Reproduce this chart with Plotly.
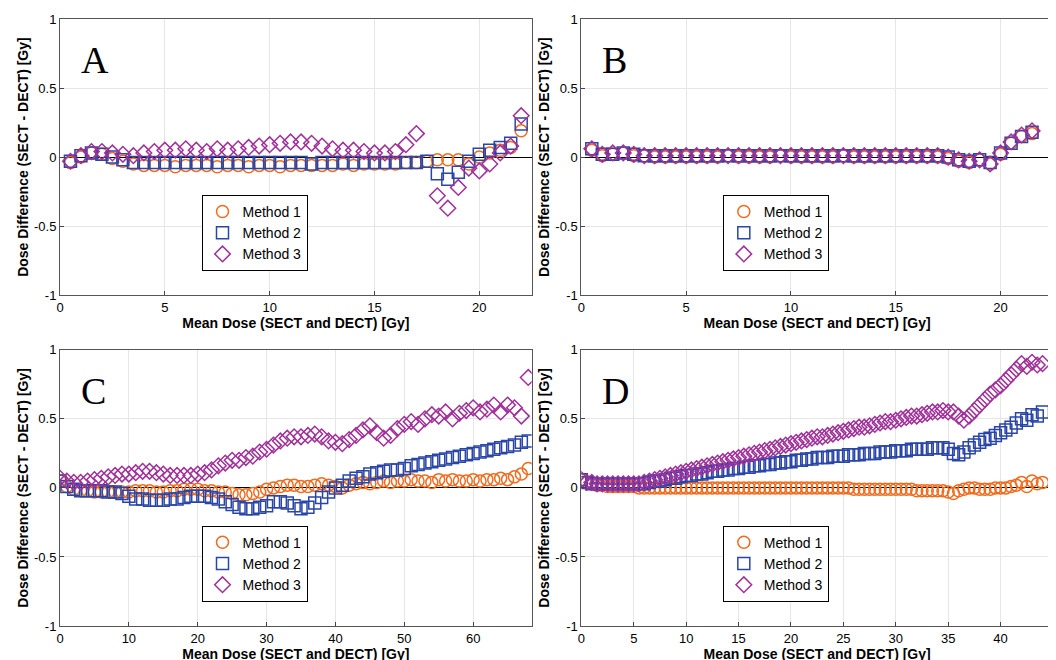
import numpy as np
import plotly.graph_objects as go

# dose bins (Gy)
dose_a = np.arange(0.5, 22.01, 0.5)
dose_b = np.arange(0.5, 21.51, 0.5)
dose_c = np.arange(0, 68.01, 1.0)
dose_d = np.arange(0, 44.01, 0.5)

a_m1 = [-0.04, 0.0, 0.03, 0.02, -0.01, -0.03, -0.05, -0.06, -0.06, -0.06, -0.07, -0.06, -0.06, -0.06, -0.07,
        -0.06, -0.06, -0.07, -0.06, -0.06, -0.07, -0.06, -0.06, -0.06, -0.06, -0.06, -0.05, -0.06, -0.05, -0.05,
        -0.05, -0.05, -0.04, -0.04, -0.03, -0.02, -0.02, -0.02, -0.05, 0.0, 0.03, 0.05, 0.07, 0.19]
a_m2 = [-0.03, 0.01, 0.03, 0.02, 0.0, -0.02, -0.04, -0.04, -0.04, -0.04, -0.04, -0.04, -0.04, -0.04, -0.04,
        -0.04, -0.04, -0.04, -0.04, -0.04, -0.04, -0.04, -0.04, -0.05, -0.04, -0.04, -0.04, -0.04, -0.04, -0.04,
        -0.04, -0.04, -0.04, -0.04, -0.03, -0.12, -0.16, -0.11, -0.03, 0.02, 0.05, 0.07, 0.10, 0.24]
a_m3 = [-0.03, 0.01, 0.04, 0.04, 0.03, 0.02, 0.01, 0.03, 0.04, 0.05, 0.05, 0.06, 0.05, 0.04, 0.06,
        0.05, 0.06, 0.07, 0.08, 0.09, 0.10, 0.11, 0.11, 0.10, 0.08, 0.06, 0.05, 0.05, 0.04, 0.03,
        0.03, 0.04, 0.09, 0.17, None, -0.28, -0.37, -0.22, -0.08, -0.10, -0.05, 0.03, 0.08, 0.30]

b_m1 = [0.05, 0.01, 0.02, 0.03, 0.01, 0.01, 0.0, 0.0, 0.0, 0.0, 0.0, 0.0, 0.0, 0.01, 0.0,
        0.0, 0.0, 0.0, 0.01, 0.0, 0.0, 0.0, 0.0, 0.0, 0.01, 0.0, 0.0, 0.0, 0.0, 0.0,
        0.0, 0.0, 0.0, 0.0, -0.01, -0.03, -0.04, -0.02, -0.05, 0.02, 0.10, 0.15, 0.17]
b_m2 = [0.06, 0.02, 0.02, 0.03, 0.02, 0.01, 0.01, 0.01, 0.01, 0.01, 0.01, 0.01, 0.01, 0.01, 0.01,
        0.01, 0.01, 0.01, 0.01, 0.01, 0.01, 0.01, 0.01, 0.01, 0.01, 0.01, 0.01, 0.01, 0.01, 0.01,
        0.01, 0.01, 0.01, 0.01, 0.0, -0.02, -0.03, -0.02, -0.04, 0.03, 0.10, 0.15, 0.18]
b_m3 = [0.06, 0.02, 0.03, 0.03, 0.02, 0.01, 0.01, 0.01, 0.01, 0.01, 0.01, 0.01, 0.01, 0.01, 0.01,
        0.01, 0.01, 0.01, 0.01, 0.01, 0.01, 0.01, 0.01, 0.01, 0.01, 0.01, 0.01, 0.01, 0.01, 0.01,
        0.01, 0.01, 0.01, 0.01, 0.0, -0.02, -0.03, -0.02, -0.05, 0.03, 0.11, 0.16, 0.19]

c_m1 = [0.05, 0.01, -0.01, -0.02, -0.02, -0.03, -0.03, -0.03, -0.03, -0.03, -0.03, -0.02, -0.02, -0.02,
        -0.03, -0.03, -0.02, -0.02, -0.01, -0.01, -0.01, -0.02, -0.02, -0.03, -0.03, -0.04, -0.05, -0.05,
        -0.04, -0.03, -0.01, 0.0, 0.01, 0.02, 0.02, 0.01, 0.01, 0.02, 0.03, 0.02, 0.01, 0.0, 0.02, 0.03,
        0.04, 0.03, 0.04, 0.05, 0.04, 0.05, 0.05, 0.06, 0.05, 0.05, 0.04, 0.06, 0.05, 0.06, 0.05, 0.05,
        0.06, 0.05, 0.06, 0.06, 0.07, 0.06, 0.08, 0.10, 0.14]
c_m2 = [0.05, 0.01, -0.01, -0.02, -0.02, -0.02, -0.02, -0.03, -0.03, -0.04, -0.06, -0.08, -0.08, -0.09,
        -0.09, -0.09, -0.08, -0.08, -0.07, -0.06, -0.06, -0.06, -0.07, -0.08, -0.10, -0.12, -0.14, -0.15,
        -0.15, -0.14, -0.13, -0.10, -0.10, -0.11, -0.13, -0.15, -0.14, -0.11, -0.07, -0.03, 0.0, 0.02,
        0.05, 0.07, 0.08, 0.10, 0.11, 0.12, 0.13, 0.13, 0.14, 0.16, 0.17, 0.18, 0.19, 0.20, 0.21, 0.22,
        0.23, 0.24, 0.25, 0.26, 0.27, 0.28, 0.29, 0.30, 0.31, 0.33, 0.34]
c_m3 = [0.07, 0.05, 0.04, 0.04, 0.05, 0.06, 0.07, 0.08, 0.09, 0.10, 0.10, 0.11, 0.12, 0.12, 0.11,
        0.10, 0.09, 0.09, 0.09, 0.09, 0.10, 0.11, 0.13, 0.16, 0.18, 0.20, 0.20, 0.22, 0.23, 0.26,
        0.28, 0.31, 0.34, 0.36, 0.37, 0.37, 0.38, 0.39, 0.37, 0.34, 0.33, 0.32, 0.35, 0.38, 0.42,
        0.45, 0.40, 0.36, 0.38, 0.43, 0.46, 0.48, 0.46, 0.50, 0.53, 0.52, 0.55, 0.50, 0.54, 0.56,
        0.58, 0.55, 0.57, 0.60, 0.55, 0.60, 0.58, 0.52, 0.80]

d_m1 = [0.06, 0.04, 0.03, 0.02, 0.02, 0.01, 0.01, 0.01, 0.01, 0.01, 0.01, 0.0, 0.0,
        0.0, 0.0, 0.0, 0.0, 0.0, 0.0, 0.0, 0.0, 0.0, 0.0, 0.0, 0.0, 0.0, 0.0, 0.0, 0.0,
        0.0, 0.0, 0.0, 0.0, 0.0, 0.0, 0.0, 0.0, 0.0, 0.0, 0.0, 0.0, 0.0, 0.0, 0.0, 0.0,
        0.0, 0.0, 0.0, 0.0, 0.0, 0.0, 0.0, -0.01, -0.01, -0.01, -0.01, -0.01, -0.01, -0.01, -0.01, -0.01,
        -0.01, -0.01, -0.01, -0.02, -0.02, -0.02, -0.02, -0.02, -0.02, -0.03, -0.04, -0.02,
        -0.01, 0.0, 0.0, -0.01, -0.01, -0.01, 0.0, 0.0, 0.0, 0.01, 0.02, 0.04, 0.01, 0.05, 0.03, 0.04]
d_m2 = [0.06, 0.04, 0.03, 0.03, 0.03, 0.03, 0.03, 0.03, 0.03, 0.03, 0.03, 0.03, 0.03,
        0.04, 0.05, 0.05, 0.06, 0.07, 0.07, 0.08, 0.09, 0.09, 0.10, 0.10, 0.11, 0.12, 0.12, 0.13, 0.13,
        0.14, 0.14, 0.15, 0.15, 0.16, 0.16, 0.17, 0.17, 0.18, 0.18, 0.19, 0.19, 0.20, 0.20, 0.21, 0.21,
        0.22, 0.22, 0.22, 0.23, 0.23, 0.23, 0.24, 0.24, 0.24, 0.25, 0.25, 0.25, 0.26, 0.26, 0.26, 0.27,
        0.27, 0.27, 0.28, 0.28, 0.28, 0.28, 0.29, 0.29, 0.29, 0.28, 0.25, 0.24,
        0.26, 0.29, 0.31, 0.33, 0.35, 0.36, 0.38, 0.40, 0.42, 0.44, 0.47, 0.50, 0.49, 0.53, 0.52, 0.55]
d_m3 = [0.06, 0.04, 0.04, 0.03, 0.03, 0.03, 0.03, 0.03, 0.03, 0.03, 0.03, 0.03, 0.04,
        0.05, 0.06, 0.07, 0.08, 0.09, 0.10, 0.11, 0.12, 0.13, 0.14, 0.15, 0.16, 0.17, 0.18, 0.19, 0.20,
        0.21, 0.22, 0.23, 0.24, 0.25, 0.26, 0.27, 0.28, 0.29, 0.30, 0.31, 0.32, 0.33, 0.34, 0.35, 0.36,
        0.37, 0.37, 0.38, 0.39, 0.40, 0.41, 0.42, 0.43, 0.44, 0.44, 0.45, 0.46, 0.47, 0.48, 0.48, 0.49,
        0.50, 0.51, 0.52, 0.52, 0.53, 0.54, 0.55, 0.55, 0.56, 0.55, 0.55, 0.52,
        0.49, 0.52, 0.56, 0.60, 0.64, 0.68, 0.71, 0.74, 0.78, 0.82, 0.86, 0.90, 0.88, 0.91, 0.89, 0.90]

methods = ["Method 1", "Method 2", "Method 3"]
colors = ["#F26B1D", "#2A45A8", "#A1309A"]
symbols = ["circle-open", "square-open", "diamond-open"]

panels = [
    ("A", dose_a, [a_m1, a_m2, a_m3], 22.5, [0, 5, 10, 15, 20]),
    ("B", dose_b, [b_m1, b_m2, b_m3], 22.5, [0, 5, 10, 15, 20]),
    ("C", dose_c, [c_m1, c_m2, c_m3], 68.5, [0, 10, 20, 30, 40, 50, 60]),
    ("D", dose_d, [d_m1, d_m2, d_m3], 45, [0, 5, 10, 15, 20, 25, 30, 35, 40]),
]

xdoms = [[0, 0.475], [0.525, 1]]
ydoms = [[0.545, 1], [0, 0.455]]

fig = go.Figure()
font_ax = dict(family="Arial", size=14, color="black")
layout = dict()
for i, (letter, x, series, xmax, ticks) in enumerate(panels):
    n = "" if i == 0 else str(i + 1)
    leg = "legend" + n
    for j in range(3):
        fig.add_trace(go.Scatter(
            x=x, y=series[j], mode="markers", name=methods[j],
            marker=dict(symbol=symbols[j], color=colors[j], size=12, line=dict(width=1.5)),
            xaxis="x" + n, yaxis="y" + n, legend=leg,
        ))
    col, row = i % 2, i // 2
    layout["xaxis" + n] = dict(
        domain=xdoms[col], anchor="y" + n, range=[0, xmax], tickvals=ticks,
        showgrid=True, gridcolor="#e6e6e6", zeroline=False, showline=True, mirror=True,
        linecolor="#555", ticks="inside", ticklen=4, tickfont=dict(family="Arial", size=13, color="black"),
        title=dict(text="<b>Mean Dose (SECT and DECT) [Gy]</b>", font=font_ax, standoff=2),
    )
    layout["yaxis" + n] = dict(
        domain=ydoms[row], anchor="x" + n, range=[-1, 1], tickvals=[-1, -0.5, 0, 0.5, 1],
        ticktext=["-1", "-0.5", "0", "0.5", "1"],
        showgrid=True, gridcolor="#e6e6e6", zeroline=True, zerolinecolor="black", zerolinewidth=1.2,
        showline=True, mirror=True, linecolor="#555", ticks="inside", ticklen=4,
        tickfont=dict(family="Arial", size=13, color="black"),
        title=dict(text="<b>Dose Difference (SECT - DECT) [Gy]</b>", font=font_ax, standoff=2),
    )
    lx = xdoms[col][0] + 0.3 * (xdoms[col][1] - xdoms[col][0])
    ly = ydoms[row][0] + 0.04
    layout[leg] = dict(
        x=lx, y=ly, xanchor="left", yanchor="bottom", bgcolor="white",
        bordercolor="black", borderwidth=1, font=dict(family="Arial", size=14, color="black"),
        tracegroupgap=0,
    )
    fig.add_annotation(
        x=xdoms[col][0] + 0.04 * (xdoms[col][1] - xdoms[col][0]), y=ydoms[row][1] - 0.03,
        xref="paper", yref="paper", text=letter, showarrow=False, xanchor="left", yanchor="top",
        font=dict(family="Liberation Serif", size=38, color="black"),
    )

fig.update_layout(
    width=1056, height=660, margin=dict(l=52, r=11, t=4, b=42),
    plot_bgcolor="white", paper_bgcolor="white", **layout,
)
fig.write_html("out.html")
